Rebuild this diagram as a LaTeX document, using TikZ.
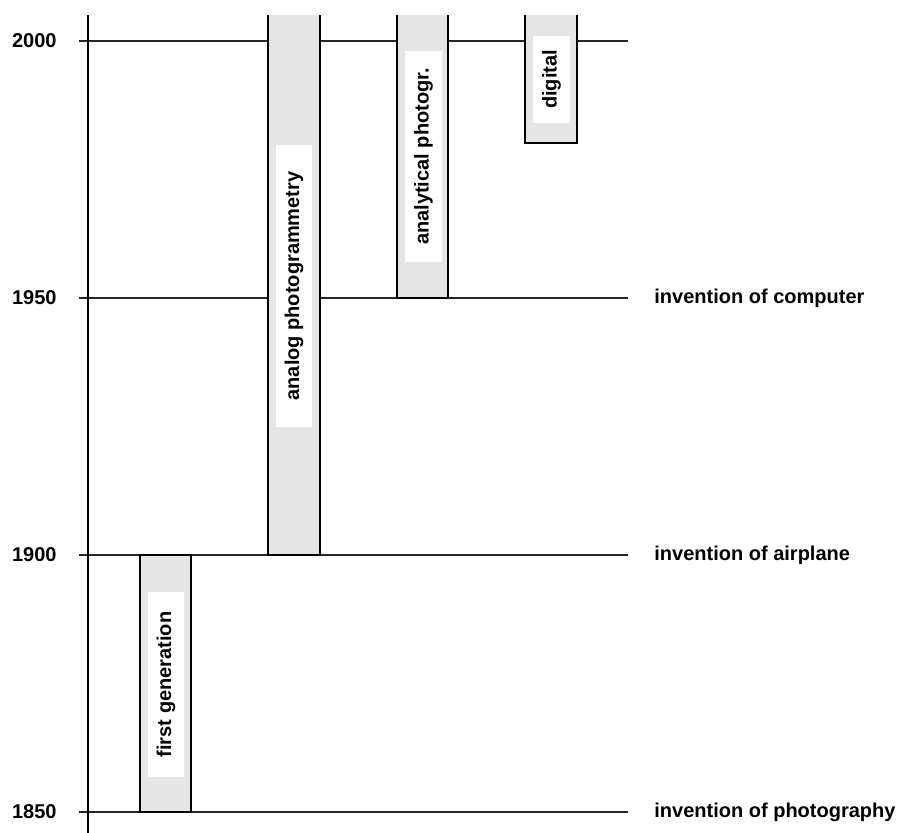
\documentclass[tikz,border=0pt]{standalone}
\usepackage{fontspec}
\setmainfont{Liberation Sans}
\begin{document}
\begin{tikzpicture}[x=0.5pt,y=-0.5pt,
  lbl/.style={font=\bfseries\fontsize{10pt}{12pt}\selectfont, text=black, inner sep=0pt},
  gridline/.style={line width=0.8pt, draw=black!85},
  barfill/.style={fill=gray!20},
  baredge/.style={line width=0.9pt, draw=black},
  inbox/.style={lbl, fill=white, rotate=90, minimum height=18pt, anchor=center}
]
\useasboundingbox (0,0) rectangle (903,833);

% horizontal year lines
\foreach \yy/\nm in {41/y2000, 298/y1950, 555/y1900, 812/y1850} {
  \coordinate (\nm l) at (79,\yy);
  \coordinate (\nm r) at (628,\yy);
  \draw[gridline] (\nm l) -- (\nm r);
}

% axis
\coordinate (axtop) at (88,15);
\coordinate (axbot) at (88,833);
\draw[line width=1pt] (axtop) -- (axbot);

% year labels
\node[lbl, anchor=east] (t2000) at (57,41) {2000};
\node[lbl, anchor=east] (t1950) at (57,298) {1950};
\node[lbl, anchor=east] (t1900) at (57,555) {1900};
\node[lbl, anchor=east] (t1850) at (57,812) {1850};

% event labels
\node[lbl, anchor=west] (ecomp) at (654,298) {invention of computer};
\node[lbl, anchor=west] (eair) at (654,555) {invention of airplane};
\node[lbl, anchor=west] (ephoto) at (654,812) {invention of photography};

% first generation bar
\fill[barfill] (140,555) rectangle (191,812);
\draw[baredge] (140,555) rectangle (191,812);
\node[inbox, minimum width=92.5pt, minimum height=18pt] (fg) at (166,684.5) {first generation};

% analog photogrammetry bar
\fill[barfill] (268,15) rectangle (320,555);
\draw[baredge] (268,15) -- (268,555) -- (320,555) -- (320,15);
\node[inbox, minimum width=141pt, minimum height=18pt] (ap) at (294,286) {analog photogrammetry};

% analytical photogrammetry bar
\fill[barfill] (397,15) rectangle (448,298);
\draw[baredge] (397,15) -- (397,298) -- (448,298) -- (448,15);
\node[inbox, minimum width=105.5pt, minimum height=18.5pt] (an) at (423.5,156.5) {analytical photogr.};

% digital bar
\fill[barfill] (525,15) rectangle (577,143);
\draw[baredge] (525,15) -- (525,143) -- (577,143) -- (577,15);
\node[inbox, minimum width=43.5pt, minimum height=18.5pt] (dg) at (551.5,79.5) {digital};

\end{tikzpicture}
\end{document}
